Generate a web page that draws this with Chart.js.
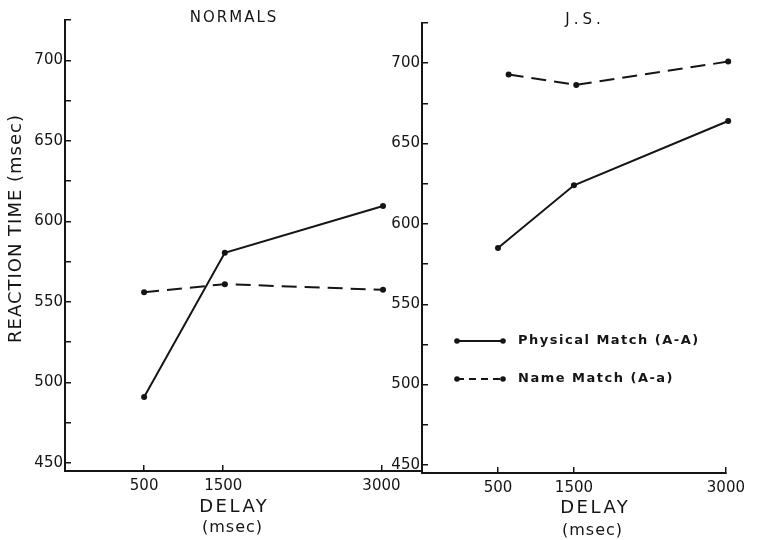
<!DOCTYPE html>
<html>
<head>
<meta charset="utf-8">
<script src="https://cdn.jsdelivr.net/npm/chart.js@4/dist/chart.umd.min.js"></script>
<style>
html, body { margin: 0; padding: 0; background: #fff; }
#wrap { position: relative; width: 757px; height: 540px; }
#wrap canvas { position: absolute; left: 0; top: 0; }
</style>
</head>
<body>
<div id="wrap">
  <canvas id="chartNormals" width="757" height="540"></canvas>
  <canvas id="chartJS" width="757" height="540"></canvas>
</div>
<script>
// delay axis is not drawn to scale in the original: 500, 1500, 3000 sit at 1, 2, 4
const delayLabels = ['500', '1500', '3000'];
const delayPos = [1, 2, 4];
const yTickValues = [450, 475, 500, 525, 550, 575, 600, 625, 650, 675, 700, 725];

// NORMALS
const normalsPhysX = [1, 2.02, 4.02];
const normalsPhysical = [491, 580.5, 609.5];
const normalsNameX = [1, 2.02, 4.02];
const normalsName = [556, 561, 557.5];

// J.S.
const jsPhysX = [1, 2, 4.03];
const jsPhysical = [585, 624, 664];
const jsNameX = [1.14, 2.03, 4.03];
const jsName = [693, 686.5, 701];

const INK = '#151515';
const FONT = '"DejaVu Sans", sans-serif';

function pts(xs, ys) {
    return xs.map((x, i) => ({ x: x, y: ys[i] }));
}

function spacedText(ctx, text, x, y, size, spacing, align, weight) {
    ctx.save();
    ctx.font = (weight || 'normal') + ' ' + size + 'px ' + FONT;
    ctx.letterSpacing = spacing + 'px';
    ctx.fillStyle = INK;
    ctx.textBaseline = 'middle';
    let w = ctx.measureText(text).width - spacing;
    let sx = x;
    if (align === 'center') sx = x - w / 2;
    ctx.textAlign = 'left';
    ctx.fillText(text, sx, y);
    ctx.restore();
}

function lineSeries(label, data, dashed) {
    return {
        label: label,
        data: data,
        borderColor: INK,
        backgroundColor: INK,
        borderWidth: 2,
        borderDash: dashed ? [15, 8] : [],
        pointRadius: 3,
        pointBorderWidth: 0,
        pointBackgroundColor: INK,
        tension: 0,
        clip: false
    };
}

function makePanel(canvas, cfg) {
    return new Chart(canvas, {
        type: 'line',
        data: {
            datasets: [
                lineSeries('Physical Match (A-A)', cfg.physical, false),
                lineSeries('Name Match (A-a)', cfg.name, true)
            ]
        },
        options: {
            responsive: false,
            animation: false,
            devicePixelRatio: 1,
            layout: { autoPadding: false, padding: cfg.padding },
            plugins: { legend: { display: false }, tooltip: { enabled: false } },
            scales: {
                x: {
                    type: 'linear',
                    min: 0,
                    max: cfg.xMax,
                    afterBuildTicks: s => { s.ticks = delayPos.map(v => ({ value: v })); },
                    afterFit: s => { s.height = cfg.xHeight; },
                    ticks: {
                        autoSkip: false,
                        maxRotation: 0,
                        padding: 12,
                        color: INK,
                        font: { family: FONT, size: 15 },
                        callback: v => {
                            const i = delayPos.indexOf(v);
                            return i >= 0 ? delayLabels[i] : '';
                        }
                    },
                    grid: { drawOnChartArea: false, drawTicks: true, tickLength: -6, color: INK, lineWidth: 1.5 },
                    border: { color: INK, width: 2 }
                },
                y: {
                    min: 445,
                    max: 725,
                    afterBuildTicks: s => { s.ticks = yTickValues.map(v => ({ value: v })); },
                    afterFit: s => { s.width = cfg.yWidth; },
                    ticks: {
                        padding: 8,
                        color: INK,
                        font: { family: FONT, size: 15 },
                        callback: v => (v % 50 === 0 ? String(v) : '')
                    },
                    grid: { drawOnChartArea: false, drawTicks: true, tickLength: -6, color: INK, lineWidth: 1.5 },
                    border: { color: INK, width: 2 }
                }
            }
        },
        plugins: [{
            id: 'labels',
            afterDraw: chart => cfg.draw(chart.ctx, chart)
        }]
    });
}

makePanel(document.getElementById('chartNormals'), {
    physical: pts(normalsPhysX, normalsPhysical),
    name: pts(normalsNameX, normalsName),
    xMax: 4.5,
    padding: { left: 0, right: 336, top: 20, bottom: 0 },
    yWidth: 65,
    xHeight: 69,
    draw: ctx => {
        spacedText(ctx, 'NORMALS', 233, 18, 15, 2, 'center');
        spacedText(ctx, 'DELAY', 233, 507, 18, 2.5, 'center');
        spacedText(ctx, '(msec)', 232, 528, 16, 1, 'center');
        ctx.save();
        ctx.translate(16, 229);
        ctx.rotate(-Math.PI / 2);
        spacedText(ctx, 'REACTION TIME (msec)', 0, 0, 18, 1, 'center');
        ctx.restore();
    }
});

makePanel(document.getElementById('chartJS'), {
    physical: pts(jsPhysX, jsPhysical),
    name: pts(jsNameX, jsName),
    xMax: 4,
    padding: { left: 377, right: 19, top: 23, bottom: 0 },
    yWidth: 45,
    xHeight: 67,
    draw: (ctx, chart) => {
        spacedText(ctx, 'J.S.', 583, 20, 15, 4, 'center');
        spacedText(ctx, 'DELAY', 594, 508, 18, 2.5, 'center');
        spacedText(ctx, '(msec)', 592, 531, 16, 1, 'center');

        // legend
        const rows = [
            { text: chart.data.datasets[0].label, y: 341, dash: [] },
            { text: chart.data.datasets[1].label, y: 379, dash: [7, 5] }
        ];
        rows.forEach(r => {
            ctx.save();
            ctx.strokeStyle = INK;
            ctx.fillStyle = INK;
            ctx.lineWidth = 2;
            ctx.setLineDash(r.dash);
            ctx.beginPath();
            ctx.moveTo(457, r.y);
            ctx.lineTo(503, r.y);
            ctx.stroke();
            [457, 503].forEach(px => {
                ctx.beginPath();
                ctx.arc(px, r.y, 2.8, 0, Math.PI * 2);
                ctx.fill();
            });
            ctx.restore();
            spacedText(ctx, r.text, 518, r.y, 13, 1.5, 'left', 'bold');
        });
    }
});
</script>
</body>
</html>
